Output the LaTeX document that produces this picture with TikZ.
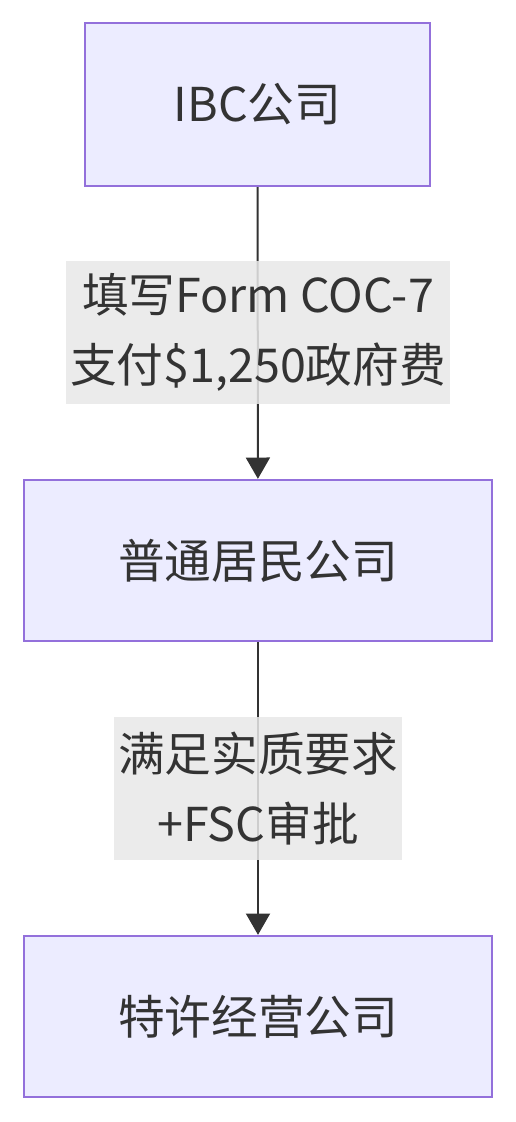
\documentclass[tikz,border=0pt]{standalone}
\usepackage{fontspec}
\setmainfont{Noto Sans CJK SC}
\usetikzlibrary{arrows.meta}
\definecolor{boxfill}{HTML}{ECECFF}
\definecolor{boxline}{HTML}{9370DB}
\definecolor{lblfill}{HTML}{E8E8E8}
\definecolor{ink}{HTML}{333333}
\begin{document}
\begin{tikzpicture}[x=0.75pt,y=-0.75pt,
  flowbox/.style={draw=boxline,fill=boxfill,line width=1.5pt,inner sep=0pt,
    minimum height=121pt,text=ink,font=\fontsize{35}{52}\selectfont},
  edgelabel/.style={fill=lblfill,fill opacity=0.85,text opacity=1,inner sep=0pt,
    text=ink,align=center,font=\fontsize{35}{53}\selectfont,minimum height=107.25pt},
  conn/.style={draw=ink,line width=1.5pt,-{Triangle[width=18pt,length=16pt]}}]
\useasboundingbox (0,0) rectangle (516,1122);
\node[flowbox,minimum width=258.75pt,minimum height=122.25pt] (b1) at (257.5,104.5) {IBC公司};
\node[flowbox,minimum width=351pt] (b2) at (258,560.5) {普通居民公司};
\node[flowbox,minimum width=351pt] (b3) at (258,1016.5) {特许经营公司};
\draw[conn] (b1) -- (b2);
\draw[conn] (b2) -- (b3);
\node[edgelabel,minimum width=288pt] (l1) at (258,332.5) {填写Form COC-7\\支付\$1,250政府费};
\node[edgelabel,minimum width=216pt] (l2) at (258,788.5) {满足实质要求\\+FSC审批};
\end{tikzpicture}
\end{document}
